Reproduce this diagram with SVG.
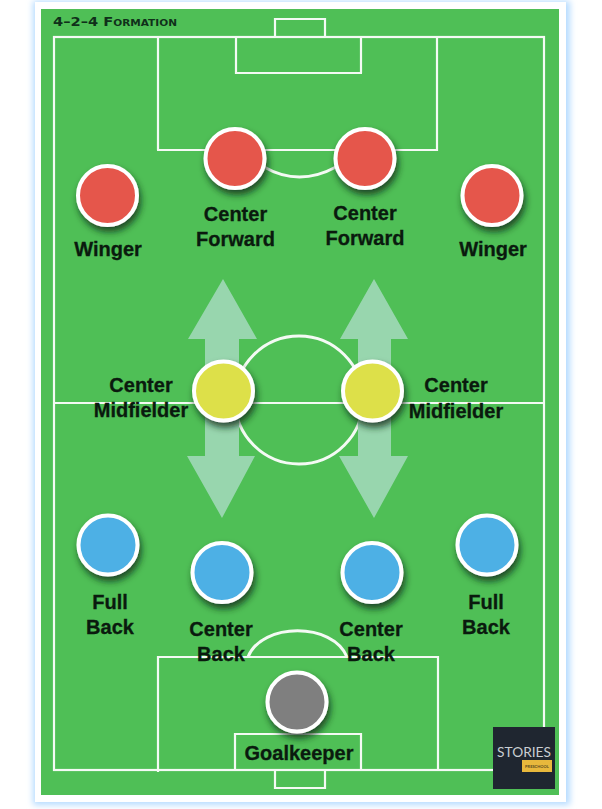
<svg xmlns="http://www.w3.org/2000/svg" width="602" height="809" viewBox="0 0 602 809">
<style>
.line{fill:none;stroke:#f4faf4;stroke-width:2.2}
.thick{stroke-width:3}
.arrow{fill:#98d6ae}
.p{stroke:#fff;stroke-width:4;filter:url(#sh)}
.red{fill:#e5574c}.yel{fill:#dde04a}.blu{fill:#4db0e5}.gry{fill:#7f7f7f}
.l{font:bold 20px "Liberation Sans",Arial,sans-serif;fill:#0a1a0e;text-anchor:middle;stroke:#0a1a0e;stroke-width:.3}
</style>
<defs>
<filter id="sh" x="-40%" y="-40%" width="190%" height="190%"><feDropShadow dx="2" dy="5" stdDeviation="3.500" flood-color="#0c2a12" flood-opacity=".8"/></filter>
<filter id="glow" x="-5%" y="-5%" width="110%" height="110%"><feGaussianBlur stdDeviation="3"/></filter>
</defs>
<rect width="602" height="809" fill="#fff"/>
<g id="frame">
<rect x="33" y="1" width="537" height="804" fill="#b5dbff" filter="url(#glow)"/>
<rect x="35" y="2" width="531" height="800" fill="#fff"/>
<rect x="41" y="9" width="518" height="786" fill="#4fbf56"/>
</g>
<g id="pitch">
<rect class="line" x="54" y="37" width="490" height="733"/>
<path class="line" d="M54 403H544"/>
<path class="line" d="M157 150H437V37M158 150V37"/>
<path class="line" d="M236 37V73H362M361 73V37"/>
<path class="line" d="M275 37V19H325V37"/>
<path class="line thick" d="M264 167Q299 187 336 167"/>
<circle class="line thick" cx="299" cy="400" r="64"/>
<path class="line" d="M158 772V657H438V770"/>
<path class="line" d="M235 770V734H361V770"/>
<path class="line" d="M275 770V788H325V770"/>
<path class="line thick" d="M248 657C262 622 333 622 347 657"/>
</g>
<g id="connectors">
<path id="arrow-left" class="arrow" d="M223 279L257 339H239V456H255L222 518L187 456H205V339H188Z"/>
<path id="arrow-right" class="arrow" d="M374 279L408 339H391V456H408L374 518L339 456H358V339H340Z"/>
</g>
<g id="title"><text x="53" y="26" textLength="124" lengthAdjust="spacingAndGlyphs" style="font:bold 12.500px 'DejaVu Sans',sans-serif;font-variant:small-caps" fill="#10301a">4–2–4 Formation</text></g>
<g id="winger-left"><circle class="p red" cx="107.500" cy="195.500" r="29.500"/><text class="l" x="108" y="256">Winger</text></g>
<g id="forward-left"><circle class="p red" cx="235" cy="158.500" r="29.500"/><text class="l" x="235.500" y="221">Center</text><text class="l" x="235.500" y="246">Forward</text></g>
<g id="forward-right"><circle class="p red" cx="365" cy="158.500" r="29.500"/><text class="l" x="365" y="220">Center</text><text class="l" x="365" y="245">Forward</text></g>
<g id="winger-right"><circle class="p red" cx="492" cy="195.500" r="29.500"/><text class="l" x="493" y="256">Winger</text></g>
<g id="mid-left"><circle class="p yel" cx="223.500" cy="391" r="29.500"/><text class="l" x="141" y="392">Center</text><text class="l" x="141" y="417">Midfielder</text></g>
<g id="mid-right"><circle class="p yel" cx="372.500" cy="391" r="29.500"/><text class="l" x="456" y="392">Center</text><text class="l" x="456" y="418">Midfielder</text></g>
<g id="fullback-left"><circle class="p blu" cx="108" cy="545" r="29.500"/><text class="l" x="110" y="609">Full</text><text class="l" x="110" y="634">Back</text></g>
<g id="centerback-left"><circle class="p blu" cx="222" cy="572.500" r="29.500"/><text class="l" x="221" y="636">Center</text><text class="l" x="221" y="661">Back</text></g>
<g id="centerback-right"><circle class="p blu" cx="372" cy="572.500" r="29.500"/><text class="l" x="371" y="636">Center</text><text class="l" x="371" y="661">Back</text></g>
<g id="fullback-right"><circle class="p blu" cx="487" cy="545" r="29.500"/><text class="l" x="486" y="609">Full</text><text class="l" x="486" y="634">Back</text></g>
<g id="goalkeeper"><circle class="p gry" cx="297" cy="702" r="29.500"/><text class="l" x="299" y="760">Goalkeeper</text></g>
<g id="logo">
<rect x="493" y="727" width="62" height="62" fill="#1f2630"/>
<text x="524" y="757" text-anchor="middle" textLength="54" lengthAdjust="spacingAndGlyphs" style="font:14px 'Lato',sans-serif" fill="#c9ced2">STORIES</text>
<rect x="522" y="760" width="30" height="12" fill="#e8b83c"/>
<text x="537" y="768" text-anchor="middle" style="font:bold 4px 'Lato',sans-serif" fill="#5a4a20">PRESCHOOL</text>
</g>
</svg>
